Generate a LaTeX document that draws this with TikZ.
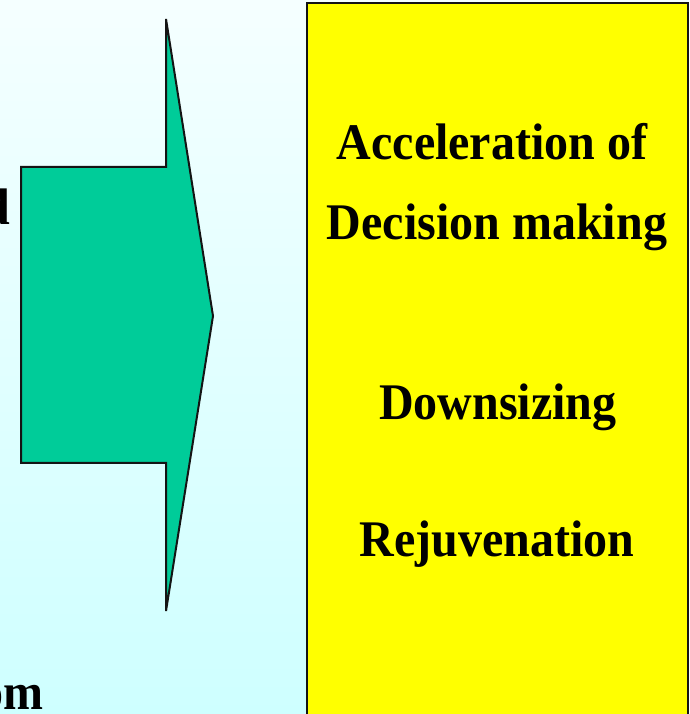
\documentclass[tikz,border=0pt]{standalone}
\usepackage{fontspec}
\usepackage{graphicx}
\setmainfont{Liberation Serif}
\definecolor{bgtop}{RGB}{245,255,255}
\definecolor{bgbot}{RGB}{206,255,255}
\definecolor{arrowgreen}{RGB}{0,204,153}
\definecolor{boxyellow}{RGB}{255,255,0}
\definecolor{edgedark}{RGB}{20,20,20}
\newcommand{\tallerText}[1]{\scalebox{1}[1.07]{#1}}
\begin{document}
\begin{tikzpicture}[x=1pt,y=1pt,
  lbl/.style={font=\bfseries\fontsize{48}{56}\selectfont, text=black, inner sep=0pt},
  shapeedge/.style={draw=edgedark, line width=2pt, line join=miter}]
\useasboundingbox (0,0) rectangle (689,714);
\shade[top color=bgtop, bottom color=bgbot] (0,0) rectangle (689,714);
% arrow
\filldraw[shapeedge, fill=arrowgreen]
  (21,714-167) -- (166,714-167) -- (166,714-19) -- (213,714-316)
  -- (166,714-611) -- (166,714-463) -- (21,714-463) -- cycle;
\coordinate (arrowtip) at (213,714-316);
% yellow box
\filldraw[shapeedge, fill=boxyellow] (307,-10) rectangle (688,714-3);
\node[lbl, anchor=base] (t1) at (492,714-160) {\tallerText{Acceleration of}};
\node[lbl, anchor=base] (t2) at (497,714-240) {\tallerText{Decision making}};
\node[lbl, anchor=base] (t3) at (498,714-420) {\tallerText{Downsizing}};
\node[lbl, anchor=base] (t4) at (497,714-557) {\tallerText{Rejuvenation}};
% cut-off left texts
\node[lbl, anchor=base east] (l1) at (10,714-225) {\tallerText{d}};
\node[lbl, anchor=base east] (l2) at (44,714-710) {\tallerText{om}};
\end{tikzpicture}
\end{document}
